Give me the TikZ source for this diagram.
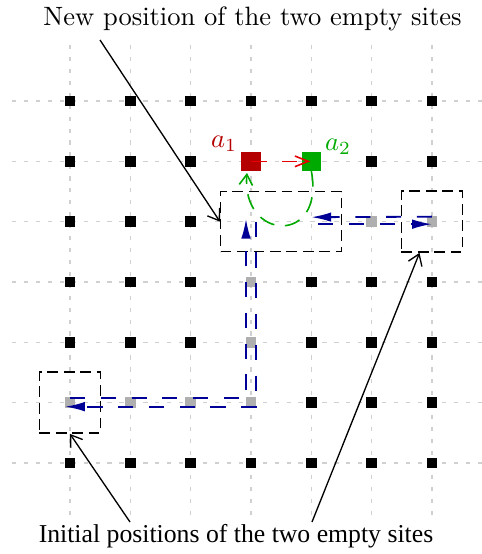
\documentclass[tikz,border=0pt]{standalone}
\usepackage{fontspec}
\newfontfamily\timesfont{Liberation Serif}
\usetikzlibrary{arrows.meta,calc}
\definecolor{vblue}{RGB}{0,0,150}
\definecolor{sred}{RGB}{180,0,0}
\definecolor{lred}{RGB}{230,0,0}
\definecolor{sgreen}{RGB}{0,170,0}
\definecolor{gridgray}{RGB}{208,208,208}
\definecolor{emptygray}{RGB}{175,175,175}
\tikzset{
  gridline/.style={draw=gridgray, line width=0.45pt, dash pattern=on 1.6pt off 2.9pt},
  atom/.style={fill=black, minimum size=4.1pt, inner sep=0pt, outer sep=0pt},
  moved/.style={fill=emptygray, minimum size=4.1pt, inner sep=0pt, outer sep=0pt},
  atomred/.style={fill=sred, minimum size=7.2pt, inner sep=0pt, outer sep=0pt},
  atomgreen/.style={fill=sgreen, minimum size=7.2pt, inner sep=0pt, outer sep=0pt},
  sitebox/.style={draw=black, line width=0.55pt, dash pattern=on 4pt off 2.2pt, inner sep=0pt},
  vpath/.style={draw=vblue, line width=0.7pt, dash pattern=on 5.7pt off 5.9pt, -{Latex[length=7.5pt,width=3.6pt]}},
  gpath/.style={draw=sgreen, line width=0.6pt, dash pattern=on 6pt off 4pt, -{Straight Barb[length=4pt,width=5pt]}},
  rpath/.style={draw=lred, line width=0.6pt, dash pattern=on 6pt off 5.5pt, -{Straight Barb[length=5pt,width=4pt]}},
  note/.style={draw=black, line width=0.5pt, -{Straight Barb[length=4pt,width=5.5pt]}},
}
\begin{document}
\begin{tikzpicture}[x=0.377pt,y=-0.377pt]
\useasboundingbox (0,0) rectangle (482,554);
% grid lines
\foreach \j in {0,...,6} \draw[gridline] (12,{101+60.333*\j}) -- (482,{101+60.333*\j});
\foreach \i in {0,...,6} \draw[gridline] ({70+60.333*\i},45) -- ({70+60.333*\i},522);
% site coordinates
\foreach \i in {0,...,6}{\foreach \j in {0,...,6}{\coordinate (p\i\j) at ({70+60.333*\i},{101+60.333*\j});}}
% black atoms
\foreach \i/\j in {0/0,1/0,2/0,3/0,4/0,5/0,6/0,
  0/1,1/1,2/1,5/1,6/1,
  0/2,1/2,2/2,
  0/3,1/3,2/3,4/3,5/3,6/3,
  0/4,1/4,2/4,4/4,5/4,6/4,
  4/5,5/5,6/5,
  0/6,1/6,2/6,3/6,4/6,5/6,6/6}
  \node[atom] (s\i\j) at (p\i\j) {};
% gray squares
\foreach \i/\j in {5/2,6/2,3/3,3/4,0/5,1/5,2/5,3/5}
  \node[moved] (g\i\j) at (p\i\j) {};
% dashed boxes
\node[sitebox, minimum width=45.6pt, minimum height=22.6pt] (box1) at ($(p32)!0.5!(p42)$) {};
\node[sitebox, minimum width=23pt, minimum height=23pt] (box2) at (p62) {};
\node[sitebox, minimum width=23pt, minimum height=23pt] (box3) at (p05) {};
% blue paths
\draw[vpath] ($(p05)+(0,-4.5)$) -- ($(p35)+(-5,-4.5)$) -- ($(p32)+(-5,-3)$);
\draw[vpath] ($(p32)+(5,0)$) -- ($(p35)+(5,4)$) -- ($(p05)+(-5,4)$);
\draw[vpath] ($(p62)+(0,-5)$) -- ($(p42)+(0,-4.5)$);
\draw[vpath] ($(p42)+(7,2.5)$) -- ($(p62)+(0,2.5)$);
% red and green atoms
\node[atomred] (a1) at (p31) {};
\node[atomgreen] (a2) at (p41) {};
\node[text=sred, inner sep=0pt] (la1) at (224,144) {$a_1$};
\node[text=sgreen, inner sep=0pt] (la2) at (338,147) {$a_2$};
\draw[gpath] (a2.south) .. controls ($(a2.south)+(14,75)$) and ($(a1.south)+(-10,70)$) .. ($(a1.south)+(-4,2)$);
\draw[rpath] (a1.center) -- ($(a2.center)+(-1,0)$);
% texts
\node[anchor=base, inner sep=0pt] (ttop) at (252.5,25) {New position of the two empty sites};
\node[anchor=base, inner sep=0pt, font=\timesfont\fontsize{9.7}{11}\selectfont] (tbot) at (236,542) {Initial positions of the two empty sites};
\coordinate (ntop) at (100,40);
\coordinate (nbl) at (130,522);
\coordinate (nbr) at (312,522);
\draw[note] (ntop) -- (box1.west);
\draw[note] (nbl) -- (box3.south);
\draw[note] (nbr) -- ($(box2.south west)!0.3!(box2.south east)$);
\end{tikzpicture}
\end{document}
